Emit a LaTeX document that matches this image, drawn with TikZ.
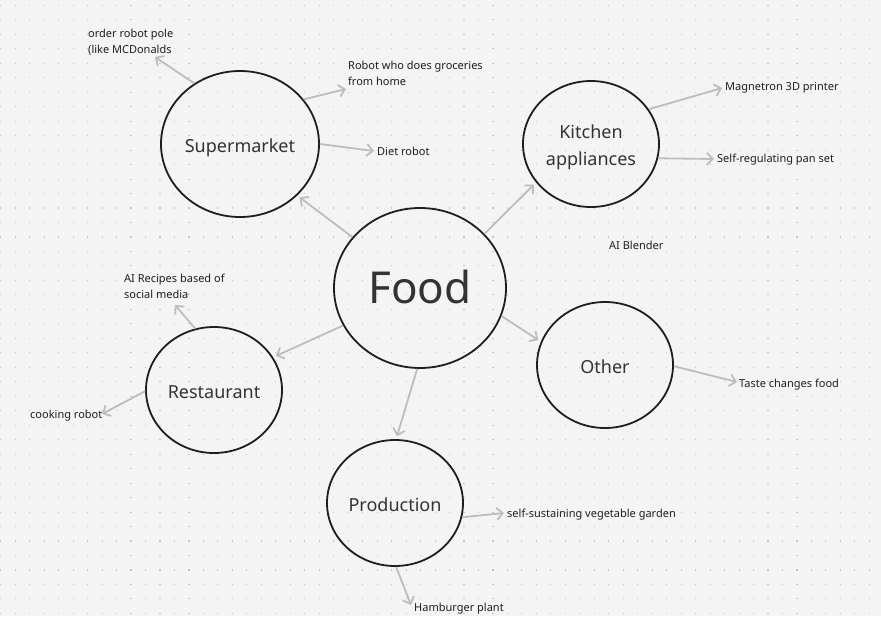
\documentclass[tikz,border=0pt]{standalone}
\usepackage{fontspec}
\setmainfont{Noto Sans}
\usetikzlibrary{arrows.meta,shapes.geometric}
\definecolor{bg}{HTML}{F4F4F4}
\definecolor{dotc}{HTML}{C4C4C4}
\definecolor{arrc}{HTML}{BDBDBD}
\definecolor{ink}{HTML}{1E1E1E}
\definecolor{lab}{HTML}{333333}
\definecolor{txt}{HTML}{1E1E1E}
\begin{document}
\begin{tikzpicture}[x=1pt,y=-1pt,
  topic/.style={ellipse, draw=ink, line width=1.8pt, inner sep=0pt, text=lab,
    font=\fontsize{18}{27}\selectfont, align=center},
  oneline/.style={text height=16.85pt, text depth=0pt},
  small/.style={anchor=west, inner sep=0pt, text=txt,
    font=\fontsize{11}{16}\selectfont, text height=8pt, text depth=2.5pt},
  smalltwo/.style={anchor=west, inner sep=0pt, text=txt,
    font=\fontsize{11}{16}\selectfont, align=left},
  arr/.style={draw=arrc, line width=1.8pt, -{Straight Barb[length=6pt,width=12pt]}}
]
\useasboundingbox (0,0) rectangle (881,616);
\fill[bg] (0,0) rectangle (881,616);
\foreach \i in {0,...,60}{
  \foreach \j in {0,...,42}{
    \fill[dotc] (0.2+\i*14.477,4.8+\j*14.477) rectangle ++(1.1,1.1);
  }
}
% topics
\node[topic, oneline, minimum width=158pt, minimum height=146pt] (sup) at (240,144) {Supermarket};
\node[topic, minimum width=172pt, minimum height=160pt, font=\fontsize{44}{50}\selectfont,
  text height=31.4pt, text depth=0pt] (food) at (420,288) {Food};
\node[topic, minimum width=136pt, minimum height=126pt] (kit) at (591,144)
  {\raisebox{-3pt}[\height][\depth]{\begin{tabular}{@{}c@{}}Kitchen\\appliances\end{tabular}}};
\node[topic, oneline, minimum width=136pt, minimum height=126pt] (rest) at (214,390) {Restaurant};
\node[topic, oneline, minimum width=136pt, minimum height=126pt] (prod) at (395,503) {Production};
\node[topic, oneline, minimum width=136pt, minimum height=126pt] (oth) at (605,365) {Other};
% ideas
\node[smalltwo] (t-order) at (88,42) {order robot pole\\(like MCDonalds};
\node[smalltwo] (t-groc) at (348,73) {Robot who does groceries\\from home};
\node[small] (t-diet) at (377,153) {Diet robot};
\node[small] (t-mag) at (725,88) {Magnetron 3D printer};
\node[small] (t-self) at (717,160) {Self-regulating pan set};
\node[small] (t-blend) at (609,247) {AI Blender};
\node[smalltwo] (t-rec) at (124,286) {AI Recipes based of\\social media};
\node[small] (t-cook) at (30,416) {cooking robot};
\node[small] (t-taste) at (739,385) {Taste changes food};
\node[small] (t-veg) at (507,515) {self-sustaining vegetable garden};
\node[small] (t-ham) at (414,609) {Hamburger plant};
% arrow ends
\coordinate (e-order) at (155,57);
\coordinate (e-groc) at (346,89);
\coordinate (e-diet) at (374,151);
\coordinate (e-rec) at (175,305);
\coordinate (e-cook) at (102,414);
\coordinate (e-mag) at (722,88);
\coordinate (e-self) at (714,159);
\coordinate (e-taste) at (737,382);
\coordinate (e-veg) at (504,513);
\coordinate (e-ham) at (411,605);
% connectors
\draw[arr, shorten >=3pt] (food.143.4) -- (sup.-42.5);
\draw[arr, shorten >=3pt] (food.40.3) -- (kit.215.3);
\draw[arr, shorten >=3pt] (food.-19.4) -- (oth.160.6);
\draw[arr, shorten >=3pt] (food.206.9) -- (rest.29.1);
\draw[arr, shorten >=3pt] (food.268.6) -- (prod.89);
\draw[arr] (sup.127.7) -- (e-order);
\draw[arr] (sup.35.9) -- (e-groc);
\draw[arr] (sup.-0.7) -- (e-diet);
\draw[arr] (rest.107.6) -- (e-rec);
\draw[arr] (rest.181.7) -- (e-cook);
\draw[arr] (kit.31) -- (e-mag);
\draw[arr] (kit.-12.3) -- (e-self);
\draw[arr] (oth.-1.6) -- (e-taste);
\draw[arr] (prod.-12.9) -- (e-veg);
\draw[arr] (prod.-89.1) -- (e-ham);
\end{tikzpicture}
\end{document}
